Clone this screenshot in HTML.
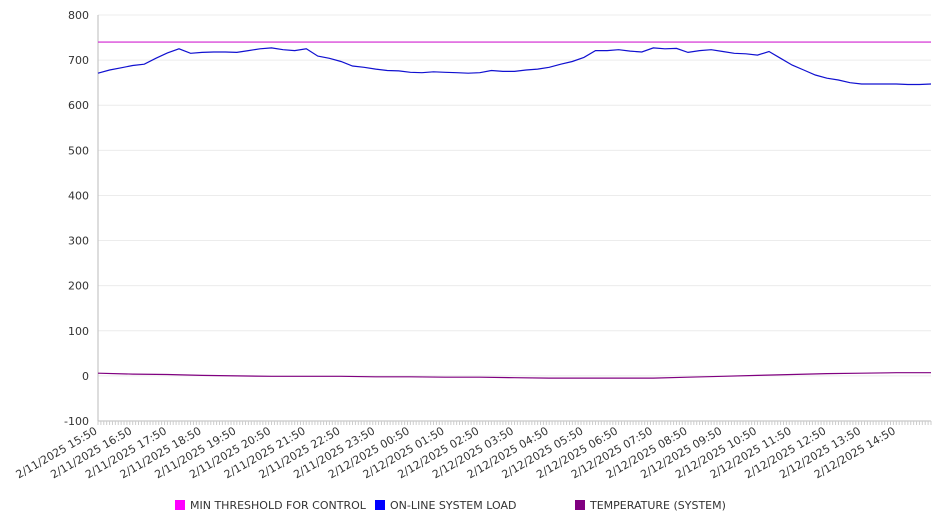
<!DOCTYPE html>
<html><head><meta charset="utf-8"><style>
body{margin:0;background:#fff;}
svg{display:block;font-family:"DejaVu Sans","Liberation Sans",sans-serif;}
</style></head><body>
<svg id="chart" width="946" height="526" viewBox="0 0 946 526"></svg>
<script>
const loadValues=[671,678,683,688,691,704,716,725,715,717,718,718,717,721,725,727,723,721,725,709,704,697,687,684,680,677,676,673,672,674,673,672,671,672,677,675,675,678,680,684,691,697,706,721,721,723,720,718,727,725,726,717,721,723,719,715,714,711,719,704,689,678,667,660,656,650,647,647,647,647,646,646,647];
const tempValues=[6,4,3,1,0,-1,-1,-1,-2,-2,-3,-3,-4,-5,-5,-5,-5,-3,-1,1,3,5,6,7,7];
const thresholdValue=740;
const yTicks=[800,700,600,500,400,300,200,100,0,-100];
const xLabels=["2/11/2025 15:50","2/11/2025 16:50","2/11/2025 17:50","2/11/2025 18:50","2/11/2025 19:50","2/11/2025 20:50","2/11/2025 21:50","2/11/2025 22:50","2/11/2025 23:50","2/12/2025 00:50","2/12/2025 01:50","2/12/2025 02:50","2/12/2025 03:50","2/12/2025 04:50","2/12/2025 05:50","2/12/2025 06:50","2/12/2025 07:50","2/12/2025 08:50","2/12/2025 09:50","2/12/2025 10:50","2/12/2025 11:50","2/12/2025 12:50","2/12/2025 13:50","2/12/2025 14:50"];
const legendNames=["MIN THRESHOLD FOR CONTROL","ON-LINE SYSTEM LOAD","TEMPERATURE (SYSTEM)"];
const NS="http://www.w3.org/2000/svg";
const svg=document.getElementById('chart');
const X0=98,X1=931,Y0=15,Y1=421,HOURS=24;
const yS=v=>Y0+(800-v)*(Y1-Y0)/900;
const xH=h=>X0+h*(X1-X0)/HOURS;
function mk(t,a){const e=document.createElementNS(NS,t);for(const k in a)e.setAttribute(k,a[k]);svg.appendChild(e);return e;}
yTicks.forEach(v=>{
  const g=mk('line',{x1:X0,x2:X1,y1:yS(v),y2:yS(v),stroke:'#ececec'});
  
  
  const t=mk('text',{x:89,y:yS(v)+4,'text-anchor':'end','font-size':11,fill:'#333'});
  t.textContent=v;
  
  
});
const ax=mk('line',{x1:X0,x2:X0,y1:Y0,y2:Y1,stroke:'#bbb'});


const bx=mk('line',{x1:X0,x2:X1,y1:Y1,y2:Y1,stroke:'#bbb'});


for(let i=0;i<=HOURS*12;i++){
  const x=xH(i/12);
  const tk=mk('line',{x1:x,x2:x,y1:Y1,y2:Y1+4,stroke:'#ccc'});
  
  
}
xLabels.forEach((l,i)=>{
  const x=xH(i);
  const t=mk('text',{x:x,y:Y1+12,'text-anchor':'end','font-size':11,fill:'#333',transform:`rotate(-30 ${x} ${Y1+12})`});
  t.textContent=l;
  
  
});
const th=mk('line',{x1:X0,x2:X1,y1:yS(thresholdValue),y2:yS(thresholdValue),stroke:'#d020d0','stroke-width':1.2});


function path(vals,col,name){
  const n=vals.length-1;
  const d=vals.map((v,i)=>(i?'L':'M')+xH(i*HOURS/n).toFixed(1)+' '+yS(v).toFixed(1)).join(' ');
  const p=mk('path',{d:d,fill:'none',stroke:col,'stroke-width':1.2});
  
  
}
path(loadValues,'#1010d0','load-line');
path(tempValues,'#800080','temperature-line');
const lx=[175,375,575],lc=['#ff00ff','#0000ff','#800080'];
legendNames.forEach((n,i)=>{
  const r=mk('rect',{x:lx[i],y:500,width:10,height:10,fill:lc[i]});
  
  
  const t=mk('text',{x:lx[i]+15,y:509,'font-size':11,fill:'#333'});
  t.textContent=n;
  
  
});
</script>
</body></html>
